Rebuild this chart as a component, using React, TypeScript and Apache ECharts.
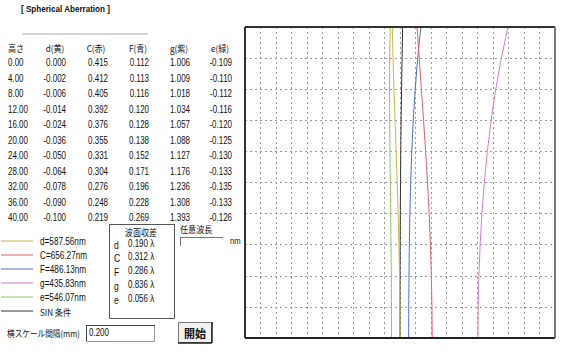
import React, { useEffect, useRef } from "react";
import * as echarts from "echarts";

// ---- data ----
const heights = [0, 4, 8, 12, 16, 20, 24, 28, 32, 36, 40];
const dVals = [0.0, -0.002, -0.006, -0.014, -0.024, -0.036, -0.05, -0.064, -0.078, -0.09, -0.1];
const cVals = [0.415, 0.412, 0.405, 0.392, 0.376, 0.355, 0.331, 0.304, 0.276, 0.248, 0.219];
const fVals = [0.112, 0.113, 0.116, 0.12, 0.128, 0.138, 0.152, 0.171, 0.196, 0.228, 0.269];
const gVals = [1.006, 1.009, 1.018, 1.034, 1.057, 1.088, 1.127, 1.176, 1.236, 1.308, 1.393];
const eVals = [-0.109, -0.11, -0.112, -0.116, -0.12, -0.125, -0.13, -0.133, -0.135, -0.133, -0.126];
const sinVals = [0.0, 0.0, 0.001, 0.002, 0.004, 0.007, 0.01, 0.014, 0.02, 0.027, 0.034];

const columnHeaders = ["高さ", "d(黄)", "C(赤)", "F(青)", "g(紫)", "e(緑)"];
const legendLabels = ["d=587.56nm", "C=656.27nm", "F=486.13nm", "g=435.83nm", "e=546.07nm", "SIN 条件"];
const waveLabels = ["d", "C", "F", "g", "e"];
const waveValues = ["0.190 λ", "0.312 λ", "0.286 λ", "0.836 λ", "0.056 λ"];
const scaleInterval = "0.200";

const COLORS = {
  d: "#c9b84a",
  C: "#e0606e",
  F: "#4f6fc4",
  g: "#d27fcb",
  e: "#92c65e",
  sin: "#333333",
};

const NUM_FONT = "Liberation Sans";
const JP_FONT = "Noto Sans CJK JP";

function txt(text: string, x: number, y: number, opts: any = {}) {
  return {
    type: "text",
    x,
    y,
    z: 50,
    scaleX: opts.sx || 1,
    style: {
      text,
      fill: opts.fill || "#111",
      fontSize: opts.size || 10,
      fontFamily: opts.family || NUM_FONT,
      fontWeight: opts.weight || "normal",
      align: opts.align || "left",
      verticalAlign: "middle",
    },
  };
}

function line(x1: number, y1: number, x2: number, y2: number, stroke: string, w = 1) {
  return {
    type: "line",
    z: 60,
    shape: { x1, y1, x2, y2 },
    style: { stroke, lineWidth: w },
  };
}

export default function App() {
  const ref = useRef<HTMLDivElement>(null);
  useEffect(() => {
    document.body.style.margin = "0";
    if (!ref.current) return;
    const chart = echarts.init(ref.current, null, { renderer: "svg" });

    const NUM = { size: 10.5, sx: 0.76 };
    const JP = { family: JP_FONT, size: 9, sx: 0.9 };

    const graphics: any[] = [];
    // title
    graphics.push(txt("[ Spherical Aberration ]", 21, 9, { size: 8.5, weight: "bold", sx: 0.95 }));
    graphics.push(line(22, 34, 148, 34, "#aaaaaa", 1));

    // table header
    const colCenters = [16, 55, 96, 138, 179, 220];
    columnHeaders.forEach((h, i) => {
      graphics.push(
        txt(h, i === 0 ? 8 : colCenters[i], 48, { ...JP, align: i === 0 ? "left" : "center" })
      );
    });
    const rightEdges = [66, 108, 149, 190, 232];
    const cols = [dVals, cVals, fVals, gVals, eVals];
    heights.forEach((h, r) => {
      const y = 63 + r * 15.5;
      graphics.push(txt(h.toFixed(2), 8, y, NUM));
      cols.forEach((arr, c) => {
        graphics.push(txt(arr[r].toFixed(3), rightEdges[c], y, { ...NUM, align: "right" }));
      });
    });

    // legend
    const legendColors = [COLORS.d, COLORS.C, COLORS.F, COLORS.g, COLORS.e, COLORS.sin];
    const legendY = [241, 255, 269, 283, 297, 311];
    legendLabels.forEach((lab, i) => {
      graphics.push(line(1, legendY[i], 33, legendY[i], legendColors[i], 1));
      graphics.push(
        txt(lab, 40, legendY[i] + 1, i === 5 ? { ...JP } : { size: 10, sx: 0.82 })
      );
    });

    // wave aberration box
    graphics.push({
      type: "rect",
      z: 40,
      shape: { x: 109.5, y: 224.5, width: 65, height: 94 },
      style: { fill: "#fff", stroke: "#555", lineWidth: 1 },
    });
    graphics.push(txt("波面収差", 141, 232, { ...JP, align: "center" }));
    const waveY = [245, 258, 272, 286, 300];
    waveLabels.forEach((l, i) => {
      graphics.push(txt(l, 114, waveY[i] + 1, { size: 10, sx: 0.85 }));
      graphics.push(txt(waveValues[i], 128, waveY[i] - 1, { size: 10, sx: 0.8 }));
    });

    // arbitrary wavelength
    graphics.push(txt("任意波長", 180, 229, { ...JP }));
    graphics.push(line(180, 237.5, 223, 237.5, "#777", 1));
    graphics.push(line(180.5, 237, 180.5, 246, "#777", 1));
    graphics.push(txt("nm", 230, 241, { size: 9, sx: 0.85 }));

    // scale interval
    graphics.push(txt("横スケール間隔(mm)", 7, 333, { ...JP, sx: 0.85 }));
    graphics.push({
      type: "rect",
      z: 40,
      shape: { x: 86.5, y: 325.5, width: 68, height: 16 },
      style: { fill: "#fff", stroke: "#999", lineWidth: 1 },
    });
    graphics.push(line(86, 325.5, 155, 325.5, "#444", 1));
    graphics.push(line(86.5, 325, 86.5, 341, "#444", 1));
    graphics.push(txt(scaleInterval, 89, 333, NUM));

    // start button
    graphics.push({
      type: "rect",
      z: 40,
      shape: { x: 178.5, y: 322.5, width: 33, height: 20 },
      style: { fill: "#f2f2f2", stroke: "#777", lineWidth: 1 },
    });
    graphics.push(line(178, 343, 212, 343, "#222", 1.5));
    graphics.push(line(212, 322, 212, 343, "#222", 1.5));
    graphics.push(txt("開始", 195, 332.5, { family: JP_FONT, align: "center", size: 11, weight: "bold" }));

    // plot border
    const L = 245, T = 27, R = 555, B = 338;
    graphics.push(line(L, T, R, T, "#333", 2));
    graphics.push(line(L, T, L, B, "#333", 2));
    graphics.push(line(L, B, R, B, "#222", 2));
    graphics.push(line(R, T, R, B, "#777", 2));

    const mk = (name: string, vals: number[], color: string, z = 2) => ({
      type: "line",
      name,
      data: heights.map((h, i) => [vals[i], h]),
      showSymbol: false,
      symbol: "none",
      z,
      lineStyle: { color, width: 1 },
      itemStyle: { color },
    });

    chart.setOption({
      animation: false,
      backgroundColor: "#ffffff",
      grid: { left: L, top: T, width: R - L, height: B - T },
      xAxis: {
        type: "value",
        min: -2,
        max: 2,
        interval: 0.2,
        axisLine: { show: false },
        axisTick: { show: false },
        axisLabel: { show: false },
        splitLine: { show: true, lineStyle: { color: "#9a9a9a", type: [2, 3], width: 1 } },
      },
      yAxis: {
        type: "value",
        min: 0,
        max: 40,
        interval: 4,
        axisLine: { show: false },
        axisTick: { show: false },
        axisLabel: { show: false },
        splitLine: { show: true, lineStyle: { color: "#9a9a9a", type: [2, 3], width: 1 } },
      },
      series: [
        mk("SIN 条件", sinVals, COLORS.sin, 2),
        mk("e=546.07nm", eVals, COLORS.e, 3),
        mk("d=587.56nm", dVals, COLORS.d, 3),
        mk("F=486.13nm", fVals, COLORS.F, 3),
        mk("C=656.27nm", cVals, COLORS.C, 3),
        mk("g=435.83nm", gVals, COLORS.g, 3),
      ],
      graphic: { elements: graphics },
    });
    return () => chart.dispose();
  }, []);
  return <div ref={ref} style={{ width: 570, height: 353 }} />;
}
